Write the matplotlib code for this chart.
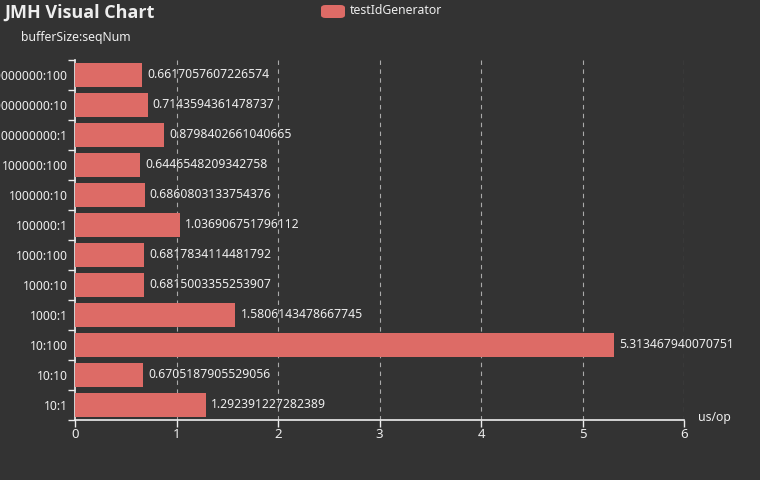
import numpy as np
import matplotlib
matplotlib.use("Agg")
import matplotlib.pyplot as plt
from matplotlib.patches import FancyBboxPatch

plt.rcParams["font.family"] = ["Noto Sans", "DejaVu Sans"]

BG = "#333333"
BAR = "#dd6b66"
TXT = "#eeeeee"
GRID = "#aaaaaa"

# de abajo hacia arriba, como en la figura
categories = ["10:1", "10:10", "10:100",
              "1000:1", "1000:10", "1000:100",
              "100000:1", "100000:10", "100000:100",
              "100000000:1", "100000000:10", "100000000:100"]
values = [1.292391227282389, 0.6705187905529056, 5.313467940070751,
          1.5806143478667745, 0.6815003355253907, 0.6817834114481792,
          1.036906751796112, 0.6860803133754376, 0.6446548209342758,
          0.8798402661040665, 0.7143594361478737, 0.6617057607226574]
series_name = "testIdGenerator"

fig = plt.figure(figsize=(7.6, 4.8), dpi=100, facecolor=BG)
ax = fig.add_axes([75 / 760, 1 - 420 / 480, 609 / 760, 360 / 480])
ax.set_facecolor(BG)

y = np.arange(len(categories))
ax.barh(y, values, height=0.82, color=BAR, zorder=3)
for yi, v in zip(y, values):
    ax.text(v + 0.05, yi, repr(v), ha="left", va="center", fontsize=8.8, color=TXT, zorder=4)

ax.set_xlim(0, 6)
ax.set_ylim(-0.5, len(categories) - 0.5)
ax.set_xticks(range(7))
ax.set_yticks(y)
ax.set_yticklabels(categories)
ax.set_yticks(np.arange(-0.5, len(categories)), minor=True)
ax.tick_params(axis="y", which="major", length=0, pad=5, labelsize=8.8, colors=TXT)
ax.tick_params(axis="y", which="minor", length=5, width=1, color=TXT, direction="out")
ax.tick_params(axis="x", length=5, width=1, color=TXT, labelsize=9.5, labelcolor=TXT, pad=1)

for s in ("top", "right"):
    ax.spines[s].set_visible(False)
for s in ("left", "bottom"):
    ax.spines[s].set_color(TXT)
    ax.spines[s].set_linewidth(1.2)

for xv in range(1, 7):
    ax.axvline(xv, color=GRID, linewidth=0.8, linestyle=(0, (4, 4)), zorder=1)

fig.text(4 / 760, 1 - 13 / 480, "JMH Visual Chart", fontsize=13, fontweight="bold",
         family=["Open Sans", "DejaVu Sans"], color=TXT, ha="left", va="center")
fig.text(76 / 760, 1 - 38 / 480, "bufferSize:seqNum", fontsize=8.8, color=TXT,
         ha="center", va="center")
fig.text(698 / 760, 1 - 418 / 480, "us/op", fontsize=8.8, color=TXT, ha="left", va="center")

# leyenda
fig.patches.append(FancyBboxPatch((321 / 760, 1 - 18 / 480), 24 / 760, 13 / 480,
                                  boxstyle="round,pad=0,rounding_size=0.006",
                                  transform=fig.transFigure, facecolor=BAR, edgecolor="none"))
fig.text(350 / 760, 1 - 11 / 480, series_name, fontsize=8.8, color=TXT, ha="left", va="center")

fig.savefig("out.png", dpi=100, facecolor=BG)
